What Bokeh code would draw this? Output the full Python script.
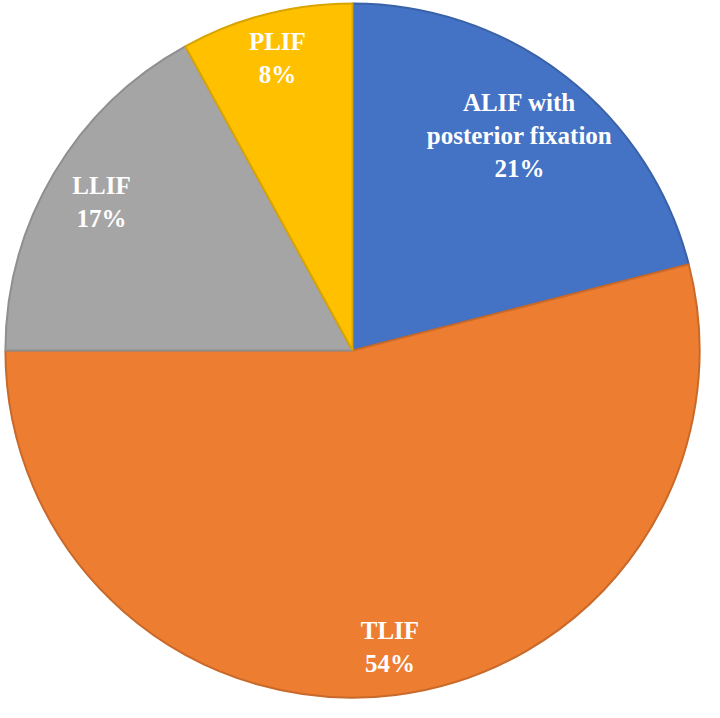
import math
from bokeh.plotting import figure
from bokeh.models import Range1d, ColumnDataSource
from bokeh.core.properties import value
from bokeh.embed import file_html
from bokeh.resources import INLINE

# Data
categories = ["ALIF with\nposterior fixation", "TLIF", "LLIF", "PLIF"]
percents = [21, 54, 17, 8]
colors = ["#4472C4", "#ED7D31", "#A5A5A5", "#FFC000"]
edge_colors = ["#3A62A8", "#C9692A", "#8F8F8F", "#D9A400"]

# Layout: data units correspond to reference-image pixels (y flipped)
W, H = 704, 702
cx, cy, R = 360, 718 - 358, 355
label_frac = [0.785, 0.86, 0.84, 0.87]

total = sum(percents)
starts, ends, mids = [], [], []
acc = 0
for v in percents:
    a0 = math.pi / 2 - 2 * math.pi * acc / total
    acc += v
    a1 = math.pi / 2 - 2 * math.pi * acc / total
    starts.append(a0)
    ends.append(a1)
    mids.append((a0 + a1) / 2)

src = ColumnDataSource(dict(start=starts, end=ends, color=colors, edge=edge_colors))

p = figure(width=W, height=H, output_backend="svg", toolbar_location=None,
           x_range=Range1d(0, 720), y_range=Range1d(0, 718),
           min_border=0, outline_line_color=None)
p.axis.visible = False
p.grid.visible = False
p.background_fill_color = "white"
p.border_fill_color = "white"

p.wedge(x=cx, y=cy, radius=R, start_angle="start", end_angle="end", direction="clock",
        fill_color="color", line_color="edge", line_width=2, source=src)

lx, ly, txt = [], [], []
for i, (c, v) in enumerate(zip(categories, percents)):
    r = R * label_frac[i]
    lx.append(cx + r * math.cos(mids[i]))
    ly.append(cy + r * math.sin(mids[i]))
    txt.append(f"{c}\n{v}%")

p.text(x=lx, y=ly, text=txt, text_align="center", text_baseline="middle",
       text_color="white", text_font=value("Liberation Serif"), text_font_style="bold",
       text_font_size="25px", text_line_height=1.22)

open("out.html", "w").write(file_html(p, INLINE))
